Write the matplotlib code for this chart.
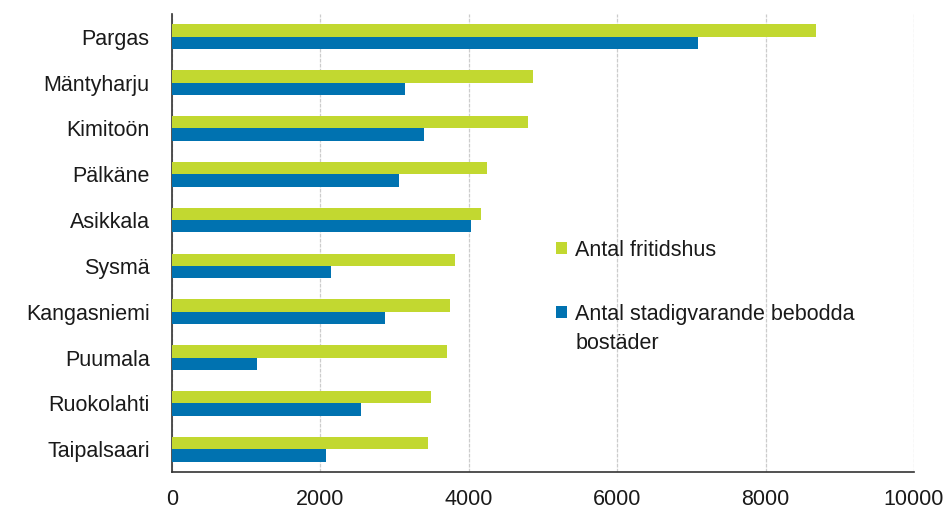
import matplotlib.pyplot as plt
import numpy as np

plt.rcParams['font.family'] = ['Liberation Sans', 'DejaVu Sans']

kommuner = ['Pargas', 'Mäntyharju', 'Kimitoön', 'Pälkäne', 'Asikkala',
            'Sysmä', 'Kangasniemi', 'Puumala', 'Ruokolahti', 'Taipalsaari']
fritidshus = [8680, 4870, 4800, 4250, 4160, 3810, 3750, 3710, 3490, 3450]
bostader = [7090, 3140, 3400, 3060, 4030, 2140, 2870, 1150, 2550, 2070]
xticks = [0, 2000, 4000, 6000, 8000, 10000]

green = '#c2d830'
blue = '#0072b0'
fs = 15.5

fig = plt.figure(figsize=(9.5, 5.11), dpi=100)
ax = fig.add_axes([0.181, 0.076, 0.781, 0.897])

y = np.arange(len(kommuner))
h = 0.27
ax.barh(y - h / 2, fritidshus, height=h, color=green, label='Antal fritidshus', zorder=3)
ax.barh(y + h / 2, bostader, height=h, color=blue,
        label='Antal stadigvarande bebodda', zorder=3)

ax.set_yticks(y)
ax.set_yticklabels(kommuner, fontsize=fs)
ax.set_ylim(len(kommuner) - 0.5, -0.5)
ax.set_xlim(0, 10000)
ax.set_xticks(xticks)
ax.set_xticklabels([str(t) for t in xticks], fontsize=fs)
ax.tick_params(axis='both', length=0, colors='#1a1a1a')
ax.tick_params(axis='x', pad=12)
ax.tick_params(axis='y', pad=16)

ax.grid(axis='x', color='#cccccc', linewidth=0.9, linestyle=(0, (3, 1)), zorder=0)
for s in ['top', 'right']:
    ax.spines[s].set_visible(False)
for s in ['left', 'bottom']:
    ax.spines[s].set_color('#333333')
    ax.spines[s].set_linewidth(1.2)

leg = ax.legend(loc='center left', bbox_to_anchor=(0.5175, 0.414), frameon=False,
                fontsize=fs, handlelength=0.5, handleheight=0.5, handletextpad=0.4,
                labelspacing=2.0, borderaxespad=0, borderpad=0)
for t in leg.get_texts():
    t.set_color('#1a1a1a')
# second line of the long legend label, placed under its first line
ax.annotate('bostäder', xy=(0, 0), xycoords=leg.get_texts()[1],
            xytext=(0, -6), textcoords='offset points',
            ha='left', va='top', fontsize=fs, color='#1a1a1a', zorder=10)

fig.savefig('out.png', dpi=100)
